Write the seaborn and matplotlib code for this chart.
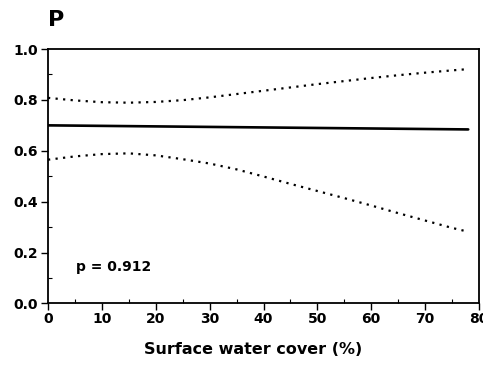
import matplotlib
matplotlib.use("Agg")
import matplotlib.pyplot as plt
import seaborn as sns
import pandas as pd
from matplotlib.ticker import MultipleLocator

# Data
x_fit = [0, 78]
y_fit = [0.700, 0.684]

x_ci = [0, 5, 10, 15, 20, 25, 30, 35, 40, 45, 50, 55, 60, 65, 70, 75, 78]
upper_ci = [0.808, 0.798, 0.791, 0.789, 0.792, 0.799, 0.810, 0.823, 0.836,
            0.849, 0.862, 0.874, 0.886, 0.897, 0.907, 0.916, 0.921]
lower_ci = [0.565, 0.578, 0.587, 0.590, 0.582, 0.567, 0.550, 0.527, 0.499,
            0.470, 0.442, 0.414, 0.385, 0.355, 0.326, 0.297, 0.282]

panel_label = "P"
x_label = "Surface water cover (%)"
p_text = "p = 0.912"
x_ticks = [0, 10, 20, 30, 40, 50, 60, 70, 80]
y_ticks = [0.0, 0.2, 0.4, 0.6, 0.8, 1.0]

sns.set_style("ticks")
plt.rcParams['font.family'] = ['DejaVu Sans']
plt.rcParams['font.weight'] = 'bold'
plt.rcParams['text.color'] = 'black'
plt.rcParams['axes.labelcolor'] = 'black'
plt.rcParams['xtick.color'] = 'black'
plt.rcParams['ytick.color'] = 'black'

fig = plt.figure(figsize=(4.83, 3.66), dpi=100)
ax = fig.add_axes([0.0994, 0.1708, 0.8923, 0.6953])

fit_df = pd.DataFrame({"x": x_fit, "y": y_fit})
up_df = pd.DataFrame({"x": x_ci, "y": upper_ci})
lo_df = pd.DataFrame({"x": x_ci, "y": lower_ci})

sns.lineplot(data=fit_df, x="x", y="y", ax=ax, color="black", linewidth=1.9)
sns.lineplot(data=up_df, x="x", y="y", ax=ax, color="black", linewidth=1.6,
             linestyle=(0, (1, 2.4)))
sns.lineplot(data=lo_df, x="x", y="y", ax=ax, color="black", linewidth=1.6,
             linestyle=(0, (1, 2.4)))

ax.set_xlim(0, 80)
ax.set_ylim(0, 1.0)
ax.set_xticks(x_ticks)
ax.set_yticks(y_ticks)
ax.set_yticklabels([f"{v:.1f}" for v in y_ticks])
ax.xaxis.set_minor_locator(MultipleLocator(5))
ax.yaxis.set_minor_locator(MultipleLocator(0.1))
ax.tick_params(axis='both', which='major', direction='out', length=5, width=1,
               labelsize=10, colors='black')
ax.tick_params(axis='x', which='major', pad=1)
ax.tick_params(axis='y', which='major', pad=2.5)
ax.tick_params(axis='both', which='minor', direction='in', length=3, width=0.8,
               colors='black')
for lbl in ax.get_xticklabels() + ax.get_yticklabels():
    lbl.set_fontweight('bold')

for s in ax.spines.values():
    s.set_visible(True)
    s.set_color("black")
    s.set_linewidth(1.3)

ax.set_xlabel(x_label, fontsize=11.5, fontweight='bold', color='black')
ax.xaxis.set_label_coords(0.475, -0.15)
ax.set_ylabel("")

ax.text(5.2, 0.142, p_text, fontsize=10, fontweight='bold', va='center', ha='left',
        color='black')
fig.text(0.099, 0.945, panel_label, fontsize=16, fontweight='bold', va='center',
         ha='left', color='black')

fig.savefig("out.png", dpi=100)
